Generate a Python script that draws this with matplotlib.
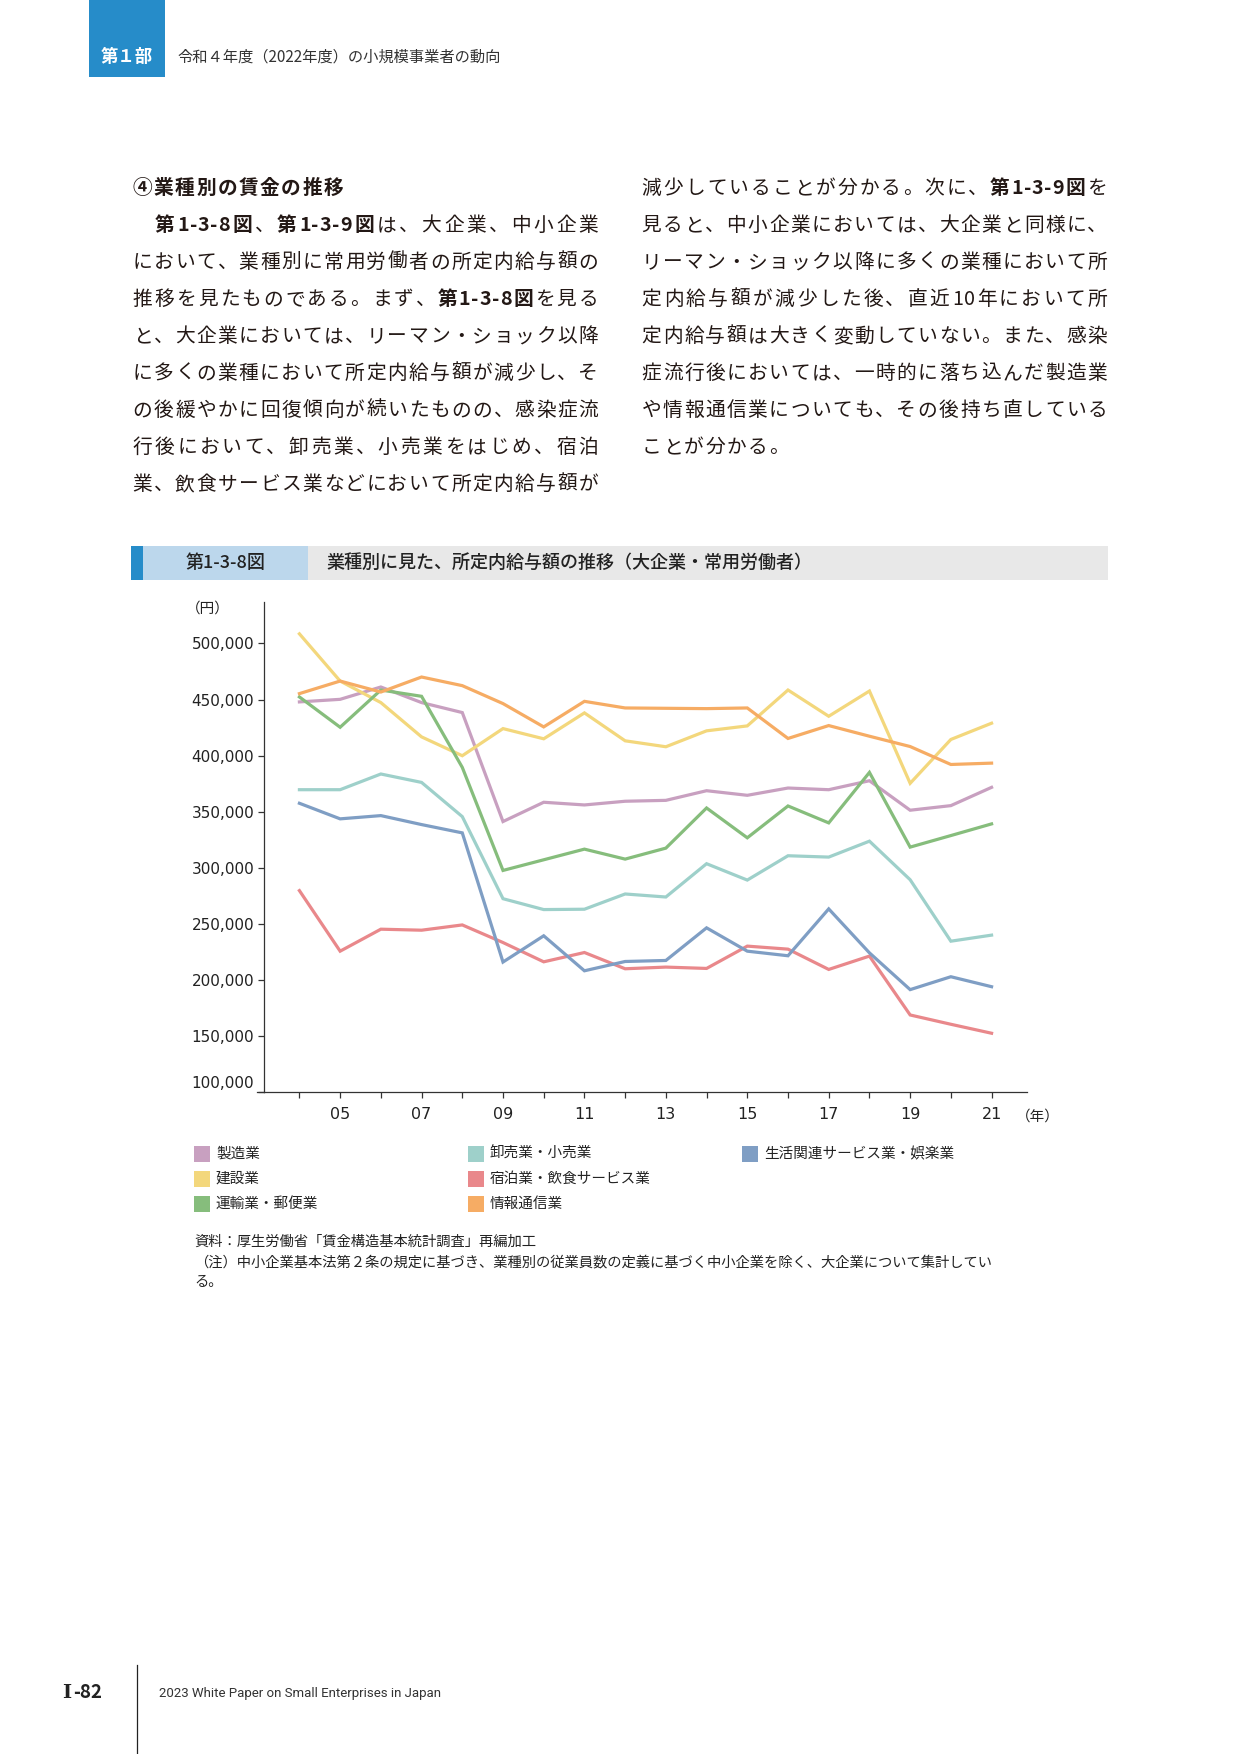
import matplotlib
matplotlib.use("Agg")
import matplotlib.pyplot as plt
from matplotlib.patches import Rectangle
from matplotlib.lines import Line2D
from matplotlib.ticker import FixedLocator, FuncFormatter
from matplotlib.transforms import ScaledTranslation

W, H, DPI = 1241, 1754, 100
JP = ["Noto Sans CJK JP", "DejaVu Sans"]
TXT = "#231815"

# ── data (円, 2004–2021) ─────────────────────────────────────────────────────
years = list(range(2004, 2022))
series_names = ["製造業", "建設業", "運輸業・郵便業", "卸売業・小売業",
                "宿泊業・飲食サービス業", "情報通信業", "生活関連サービス業・娯楽業"]
manufacturing = [447900, 450200, 461200, 447300, 438400, 341200, 358400, 356000, 359300,
                 360100, 368700, 364600, 371100, 369600, 377600, 351300, 355400, 371700]
construction = [508600, 466500, 447300, 416700, 399900, 424100, 415000, 438100, 413200,
                407900, 422100, 426500, 458500, 435100, 457600, 375300, 414400, 428900]
transport = [452300, 425300, 458500, 452900, 389500, 297600, 307100, 316600, 307700,
             317500, 353300, 326700, 355100, 340000, 385000, 318400, 328700, 339100]
wholesale = [369600, 369600, 383600, 376100, 345600, 272400, 262700, 263000, 276600,
             273900, 303600, 289000, 310700, 309500, 323700, 289300, 234500, 239900]
hospitality = [279600, 225600, 245200, 244300, 249000, 233300, 216100, 224400, 209900,
               211400, 210200, 230100, 227400, 209300, 221200, 168700, 160400, 152400]
infocomm = [455300, 466500, 456700, 470100, 462400, 446400, 425600, 448400, 442500,
            442200, 441900, 442500, 415300, 426800, 417300, 408100, 392100, 393300]
living = [357500, 343600, 346500, 338500, 331100, 215900, 239300, 208100, 216400,
          217300, 246400, 225600, 221500, 263300, 224100, 191300, 202800, 193900]
series_values = [manufacturing, construction, transport, wholesale,
                 hospitality, infocomm, living]
series_colors = ["#C8A0C0", "#F3D77C", "#86BD7C", "#9ED0CA",
                 "#E9888B", "#F6AC64", "#7F9EC4"]
y_ticks = [100000, 150000, 200000, 250000, 300000, 350000, 400000, 450000, 500000]
x_label_years = [2005, 2007, 2009, 2011, 2013, 2015, 2017, 2019, 2021]

fig = plt.figure(figsize=(W / DPI, H / DPI), dpi=DPI)


def fx(x):
    return x / W


def fy(y):
    return 1 - y / H


def ftext(x, y, s, **kw):
    kw.setdefault("family", JP)
    kw.setdefault("color", TXT)
    return fig.text(fx(x), fy(y), s, **kw)


# ── page header ──────────────────────────────────────────────────────────────
fig.add_artist(Rectangle((fx(89), fy(77)), 76 / W, 77 / H, transform=fig.transFigure,
                         facecolor="#268CC9", edgecolor="none"))
ftext(127, 57, "第１部", fontsize=12.5, fontweight="bold", color="white",
      ha="center", va="center")
ftext(177, 57, "令和４年度（2022年度）の小規模事業者の動向", fontsize=11,
      color="#333333", ha="left", va="center")


# ── body text (per-character, justified like the typeset page) ───────────────
ADV = 21.2   # px per full-width character
BODY = 14.2  # pt


def _half(ch):
    return 0.42 * ADV if ch == "-" else 0.56 * ADV


def _units(runs):
    """Split runs into full-width chars and grouped half-width (ASCII) pieces."""
    out = []
    for s, b in runs:
        buf = ""
        for ch in s:
            if ord(ch) < 128:
                buf += ch
                continue
            if buf:
                out.append((buf, b))
                buf = ""
            out.append((ch, b))
        if buf:
            out.append((buf, b))
    return out


def _width(u):
    return ADV if ord(u[0]) > 127 else sum(_half(c) for c in u)


def draw_line(x0, yc, runs, width=None, size=BODY):
    units = _units(runs)
    ws = [_width(u) for u, _ in units]
    gap = 0.0
    if width is not None and len(units) > 1:
        gap = (width - sum(ws)) / (len(units) - 1)
    base = yc + 0.36 * size * DPI / 72
    x = x0
    for (u, b), w in zip(units, ws):
        weight = "bold" if b else "normal"
        if ord(u[0]) > 127:
            if u != "　":
                ftext(x + 0.03 * ADV, base, u, fontsize=size, fontweight=weight,
                      ha="left", va="baseline")
        else:
            cx = x
            for ch in u:
                ftext(cx + _half(ch) / 2, base, ch, fontsize=size, fontweight=weight,
                      ha="center", va="baseline")
                cx += _half(ch)
        x += w + gap


COL_W = 467
left_x, right_x = 132, 641
line_y = [187, 224, 261, 298, 335, 372, 409, 446, 483]

draw_line(left_x, line_y[0], [("④業種別の賃金の推移", True)])
left_lines = [
    [("　", False), ("第1-3-8図", True), ("、", False), ("第1-3-9図", True),
     ("は、大企業、中小企業", False)],
    [("において、業種別に常用労働者の所定内給与額の", False)],
    [("推移を見たものである。まず、", False), ("第1-3-8図", True), ("を見る", False)],
    [("と、大企業においては、リーマン・ショック以降", False)],
    [("に多くの業種において所定内給与額が減少し、そ", False)],
    [("の後緩やかに回復傾向が続いたものの、感染症流", False)],
    [("行後において、卸売業、小売業をはじめ、宿泊", False)],
    [("業、飲食サービス業などにおいて所定内給与額が", False)],
]
for yc, runs in zip(line_y[1:], left_lines):
    draw_line(left_x, yc, runs, width=COL_W)

right_lines = [
    [("減少していることが分かる。次に、", False), ("第1-3-9図", True), ("を", False)],
    [("見ると、中小企業においては、大企業と同様に、", False)],
    [("リーマン・ショック以降に多くの業種において所", False)],
    [("定内給与額が減少した後、直近10年において所", False)],
    [("定内給与額は大きく変動していない。また、感染", False)],
    [("症流行後においては、一時的に落ち込んだ製造業", False)],
    [("や情報通信業についても、その後持ち直している", False)],
]
for yc, runs in zip(line_y, right_lines):
    draw_line(right_x, yc, runs, width=COL_W)
draw_line(right_x, line_y[7], [("ことが分かる。", False)])

# ── figure title bar ─────────────────────────────────────────────────────────
bar_top, bar_bot = 546, 580
fig.add_artist(Rectangle((fx(131), fy(bar_bot)), (1108 - 131) / W, (bar_bot - bar_top) / H,
                         transform=fig.transFigure, facecolor="#E8E8E8", edgecolor="none"))
fig.add_artist(Rectangle((fx(131), fy(bar_bot)), (308 - 131) / W, (bar_bot - bar_top) / H,
                         transform=fig.transFigure, facecolor="#BCD7EC", edgecolor="none"))
fig.add_artist(Rectangle((fx(131), fy(bar_bot)), 12 / W, (bar_bot - bar_top) / H,
                         transform=fig.transFigure, facecolor="#268CC9", edgecolor="none"))
ftext(226, 563, "第1-3-8図", fontsize=13, fontweight="medium", ha="center", va="center",
      color="#222222")
ftext(326, 563, "業種別に見た、所定内給与額の推移（大企業・常用労働者）", fontsize=13,
      fontweight="medium", ha="left", va="center", color="#222222")

# ── chart ────────────────────────────────────────────────────────────────────
ax_l, ax_r, ax_t, ax_b = 264, 1027, 602, 1092
ax = fig.add_axes([fx(ax_l), fy(ax_b), (ax_r - ax_l) / W, (ax_b - ax_t) / H])
for vals, color in zip(series_values, series_colors):
    ax.plot(years, vals, color=color, linewidth=2.3, solid_joinstyle="miter")

ax.set_xlim(2003.13, 2021.87)
ax.set_ylim(100000, 537000)
for side in ("top", "right"):
    ax.spines[side].set_visible(False)
for side in ("left", "bottom"):
    ax.spines[side].set_color("#333333")
    ax.spines[side].set_linewidth(0.9)

ax.yaxis.set_major_locator(FixedLocator(y_ticks))
ax.yaxis.set_major_formatter(FuncFormatter(lambda v, _: f"{int(v):,}"))
ax.xaxis.set_major_locator(FixedLocator(x_label_years))
ax.xaxis.set_minor_locator(FixedLocator([y for y in years if y not in x_label_years]))
ax.xaxis.set_major_formatter(FuncFormatter(lambda v, _: f"{int(v) % 100:02d}"))
ax.tick_params(axis="y", direction="out", length=4, width=0.9, color="#333333",
               labelsize=11, labelcolor="#222222", pad=3)
ax.tick_params(axis="x", which="both", direction="out", length=4, width=0.9,
               color="#333333", labelsize=11.5, labelcolor="#222222", pad=7)
for lab in ax.get_xticklabels():
    lab.set_family(["Liberation Sans Narrow", "DejaVu Sans"])
# the lowest label sits a little above its tick in the original
low = ax.yaxis.get_major_ticks()[0].label1
low.set_transform(low.get_transform() + ScaledTranslation(0, 0.1, fig.dpi_scale_trans))

fig.add_artist(Line2D([fx(257), fx(ax_l)], [fy(ax_b), fy(ax_b)], color="#333333",
                      linewidth=0.9, transform=fig.transFigure))
ftext(208, 609, "（円）", fontsize=10.5, ha="center", va="center", color="#222222")
ftext(1038, 1117, "（年）", fontsize=10.5, ha="center", va="center", color="#222222")

# ── legend ───────────────────────────────────────────────────────────────────
legend_cols = [194, 468, 742]
legend_rows = [1154, 1179, 1204]
slots = [(0, 0), (1, 0), (2, 0), (0, 1), (1, 1), (2, 1), (0, 2)]
for name, color, (r, c) in zip(series_names, series_colors, slots):
    x, y = legend_cols[c], legend_rows[r]
    fig.add_artist(Rectangle((fx(x), fy(y + 8)), 16 / W, 16 / H, transform=fig.transFigure,
                             facecolor=color, edgecolor="none"))
    ftext(x + 22, y, name, fontsize=10.5, ha="left", va="center", color="#222222")

# ── notes ────────────────────────────────────────────────────────────────────
ftext(194, 1242, "資料：厚生労働省「賃金構造基本統計調査」再編加工", fontsize=10.3,
      ha="left", va="center", color="#222222")
ftext(194, 1262, "（注）中小企業基本法第２条の規定に基づき、業種別の従業員数の定義に基づく"
      "中小企業を除く、大企業について集計してい", fontsize=10.3, ha="left", va="center",
      color="#222222")
ftext(194, 1282, "る。", fontsize=10.3, ha="left", va="center", color="#222222")

# ── footer ───────────────────────────────────────────────────────────────────
ftext(67, 1693, "I", fontsize=14, fontweight="bold", family=["DejaVu Serif"],
      ha="center", va="center", color="#222222")
ftext(73, 1693, "-82", fontsize=13.5, fontweight="bold", ha="left", va="center",
      color="#222222")
fig.add_artist(Line2D([fx(137), fx(137)], [fy(1665), fy(1754)], color="#222222",
                      linewidth=0.9, transform=fig.transFigure))
ftext(159, 1693, "2023 White Paper on Small Enterprises in Japan", fontsize=9.5,
      family=["Roboto", "DejaVu Sans"], ha="left", va="center", color="#333333")

fig.savefig("out.png", dpi=DPI, facecolor="white")
